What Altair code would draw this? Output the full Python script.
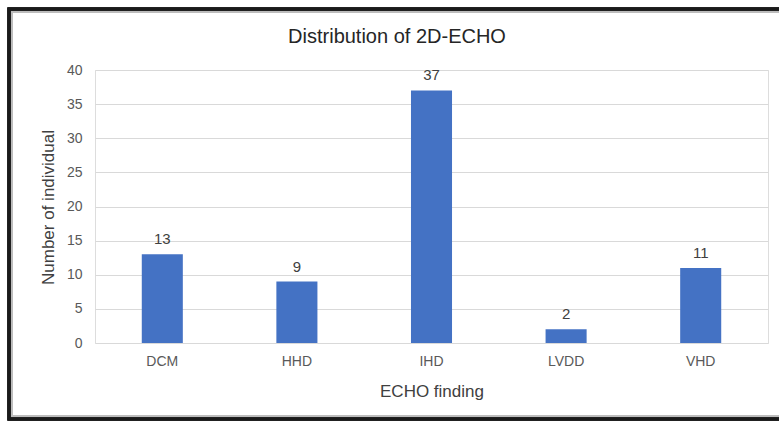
import altair as alt
import pandas as pd

categories = ["DCM", "HHD", "IHD", "LVDD", "VHD"]
counts = [13, 9, 37, 2, 11]
y_ticks = [0, 5, 10, 15, 20, 25, 30, 35, 40]
title_text = ["Distribution of 2D-ECHO"]

df = pd.DataFrame({"finding": categories, "count": counts})
tdf = pd.DataFrame({"t": title_text})

FONT = "Liberation Sans"

x_enc = alt.X(
    "finding:N",
    sort=categories,
    scale=alt.Scale(paddingInner=0.695, paddingOuter=0.3475),
    axis=alt.Axis(
        title="ECHO finding", labelAngle=0, labelFontSize=14, labelColor="#595959",
        labelPadding=11, ticks=False, domain=False, titleFontSize=17,
        titleColor="#404040", titleFontWeight="normal", titleBaseline="middle",
        titleY=48, labelFont=FONT, titleFont=FONT,
    ),
)
y_enc = alt.Y(
    "count:Q",
    scale=alt.Scale(domain=[0, 40]),
    axis=alt.Axis(
        title="Number of individual", values=y_ticks, labelOverlap=False,
        labelFontSize=14, labelColor="#595959", labelPadding=13, ticks=False,
        domain=False, gridColor="#d9d9d9", titleFontSize=17, titleColor="#404040",
        titleFontWeight="normal", titleX=-47, titleY=137, titleBaseline="middle",
        labelFont=FONT, titleFont=FONT,
    ),
)

base = alt.Chart(df).encode(x=x_enc, y=y_enc)
bars = base.mark_bar(color="#4472C4")
labels = base.mark_text(
    baseline="alphabetic", dy=-10, fontSize=15, color="#404040", font=FONT
).encode(text="count:Q")

title = alt.Chart(tdf).mark_text(
    fontSize=20, font=FONT, color="#262626", baseline="middle", align="center"
).encode(x=alt.value(302), y=alt.value(-33), text="t:N")

frame = alt.Chart(df).mark_rect(
    filled=False, stroke="#1a1a1a", strokeWidth=3
).encode(
    x=alt.value(-86), x2=alt.value(695), y=alt.value(-61), y2=alt.value(349)
)
inner = alt.Chart(df).mark_rect(
    filled=False, stroke="#bdbdbd", strokeWidth=2, strokeOpacity=0.6
).encode(
    x=alt.value(-83), x2=alt.value(692), y=alt.value(-58), y2=alt.value(346)
)

chart = alt.layer(bars, labels, title, frame, inner).properties(
    width=673,
    height=273,
    autosize=alt.AutoSizeParams(type="none"),
    padding={"left": 95, "top": 70, "right": 11, "bottom": 80},
).configure_view(stroke=None).configure(background="white")

chart.save("out.html", embed_options={"renderer": "svg", "actions": False})
